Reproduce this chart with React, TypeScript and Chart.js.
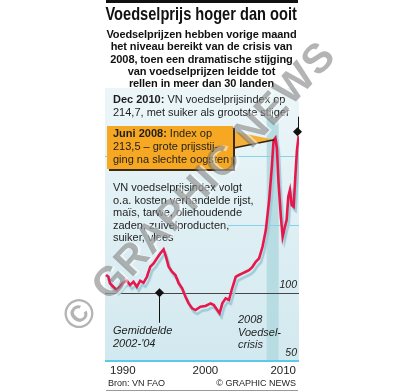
import React, { useEffect, useRef } from "react";
import { Chart, registerables } from "chart.js";
Chart.register(...registerables);

// ---- data ----
const years = [
  1990.11, 1990.36, 1990.54, 1990.9, 1991.27, 1991.63, 1991.99, 1992.36, 1992.72, 1993.08,
  1993.45, 1993.81, 1994.17, 1994.54, 1994.9, 1995.26, 1995.63, 1995.98, 1996.34, 1996.6,
  1996.89, 1997.26, 1997.62, 1997.98, 1998.35, 1998.71, 1999.06, 1999.43, 1999.79, 2000.34,
  2000.88, 2001.43, 2001.78, 2002.15, 2002.4, 2002.7, 2003.06, 2003.42, 2003.71, 2004.15,
  2004.5, 2004.87, 2005.23, 2005.59, 2005.96, 2006.32, 2006.68, 2007.05, 2007.41, 2007.77,
  2008.06, 2008.25, 2008.45, 2008.61, 2008.79, 2009.04, 2009.23, 2009.48, 2009.66, 2009.84,
  2010.02, 2010.21, 2010.42, 2010.6, 2010.78, 2010.96,
];
const foodIndex = [
  113.0, 111.7, 106.9, 104.4, 102.0, 104.4, 107.3, 108.8, 105.6, 108.1,
  104.4, 108.8, 107.3, 111.7, 119.0, 121.5, 125.2, 128.8, 131.8, 126.4,
  119.0, 115.4, 113.0, 106.9, 103.2, 97.1, 92.2, 88.6, 87.3, 89.8,
  90.3, 92.2, 91.0, 87.3, 84.9, 92.2, 95.9, 94.7, 102.0, 111.7,
  113.0, 114.2, 115.4, 116.6, 119.0, 122.7, 125.2, 133.7, 145.9, 167.9,
  192.2, 211.8, 213.5, 205.7, 180.1, 155.6, 141.0, 148.3, 153.2, 170.3,
  175.2, 164.2, 163.0, 184.9, 204.5, 214.7,
];
const xTickValues = [1990, 2000, 2010];
const xTickLabels = ["1990", "2000", "2010"];
const yLabelValues = [100, 50];
const yLabels = ["100", "50"];
const crisisRange = [2007.5, 2008.8];
const avgMarker = [1995.8, 100];
const dec2010Marker = [2010.75, 218];
const juni2008Point = [2008.45, 213.5];

const FONT = '"Liberation Sans", Arial, Helvetica, sans-serif';
const RED = "#e8174b";

const decorPlugin = {
  id: "decor",
  beforeDatasetsDraw(chart: any) {
    const { ctx, chartArea: a, scales } = chart;
    const x = scales.x, y = scales.y;
    ctx.save();
    const g = ctx.createLinearGradient(0, a.top, 0, a.bottom);
    g.addColorStop(0, "#ecf6f9");
    g.addColorStop(1, "#d2e9ef");
    ctx.fillStyle = g;
    ctx.fillRect(a.left, a.top, a.right - a.left, a.bottom - a.top);
    // crisis band
    const c0 = x.getPixelForValue(crisisRange[0]);
    const c1 = x.getPixelForValue(crisisRange[1]);
    ctx.fillStyle = "#b7dde3";
    ctx.fillRect(c0, a.top + 30, c1 - c0, a.bottom - a.top - 30);
    // grid lines
    ctx.strokeStyle = "#86d3ec";
    ctx.lineWidth = 1.2;
    [200, 150].forEach((v) => {
      const py = Math.round(y.getPixelForValue(v)) + 0.5;
      const startX = v === 150 ? x.getPixelForValue(2003.3) : a.left;
      ctx.beginPath();
      ctx.moveTo(startX, py);
      ctx.lineTo(a.right, py);
      ctx.stroke();
    });
    ctx.strokeStyle = "#444";
    ctx.lineWidth = 1;
    const p100 = Math.round(y.getPixelForValue(100)) + 0.5;
    ctx.beginPath();
    ctx.moveTo(a.left, p100);
    ctx.lineTo(a.right, p100);
    ctx.stroke();
    ctx.strokeStyle = "#5cc8ea";
    ctx.lineWidth = 2;
    const p50 = y.getPixelForValue(50);
    ctx.beginPath();
    ctx.moveTo(a.left, p50);
    ctx.lineTo(a.right, p50);
    ctx.stroke();
    ctx.restore();
  },
  beforeDatasetDraw(chart: any) {
    const ctx = chart.ctx;
    ctx.save();
    ctx.shadowColor = "#9fcbd8";
    ctx.shadowOffsetX = 2;
    ctx.shadowOffsetY = 4;
    ctx.shadowBlur = 1;
  },
  afterDatasetDraw(chart: any) {
    chart.ctx.restore();
  },
  afterDatasetsDraw(chart: any) {
    const { ctx, chartArea: a, scales } = chart;
    const x = scales.x, y = scales.y;
    ctx.save();
    // pointer from the Juni 2008 box to the peak
    const tx = x.getPixelForValue(juni2008Point[0]) - 1;
    const ty = y.getPixelForValue(juni2008Point[1]) + 2;
    const bx = x.getPixelForValue(2003.0);
    ctx.fillStyle = "rgba(245,168,35,0.9)";
    ctx.beginPath();
    ctx.moveTo(bx, ty - 10);
    ctx.lineTo(tx, ty);
    ctx.lineTo(bx, ty + 10);
    ctx.closePath();
    ctx.fill();
    ctx.strokeStyle = "#2e2210";
    ctx.lineWidth = 1.5;
    ctx.beginPath();
    ctx.moveTo(bx, ty + 10);
    ctx.lineTo(tx, ty);
    ctx.stroke();

    const diamond = (cx: number, cy: number, r: number) => {
      ctx.beginPath();
      ctx.moveTo(cx, cy - r);
      ctx.lineTo(cx + r, cy);
      ctx.lineTo(cx, cy + r);
      ctx.lineTo(cx - r, cy);
      ctx.closePath();
      ctx.fill();
    };
    ctx.fillStyle = "#111";
    ctx.strokeStyle = "#111";
    ctx.lineWidth = 1;
    // average 2002-'04 marker
    const ax = Math.round(x.getPixelForValue(avgMarker[0])) + 0.5;
    const ay = y.getPixelForValue(avgMarker[1]);
    ctx.beginPath();
    ctx.moveTo(ax, ay);
    ctx.lineTo(ax, ay + 30);
    ctx.stroke();
    diamond(ax, ay, 4.5);
    // Dec 2010 marker
    const dx = Math.round(x.getPixelForValue(dec2010Marker[0])) + 0.5;
    const dy = y.getPixelForValue(dec2010Marker[1]);
    ctx.beginPath();
    ctx.moveTo(dx + 1, dy);
    ctx.lineTo(dx + 1, dy - 15);
    ctx.stroke();
    diamond(dx, dy, 4.5);

    // y labels
    ctx.fillStyle = "#222";
    ctx.font = `italic 10.5px ${FONT}`;
    ctx.textAlign = "right";
    ctx.textBaseline = "middle";
    yLabelValues.forEach((v, i) => {
      ctx.fillText(yLabels[i], a.right - 2, y.getPixelForValue(v) - 8);
    });
    // x labels
    ctx.font = `11.5px ${FONT}`;
    ctx.fillStyle = "#222";
    xTickValues.forEach((v, i) => {
      const px = x.getPixelForValue(v);
      if (i === 0) {
        ctx.textAlign = "left";
        ctx.fillText(xTickLabels[i], px + 5, a.bottom + 10);
      } else if (i === xTickValues.length - 1) {
        ctx.textAlign = "right";
        ctx.fillText(xTickLabels[i], a.right - 3, a.bottom + 10);
      } else {
        ctx.textAlign = "center";
        ctx.fillText(xTickLabels[i], px + 8, a.bottom + 10);
      }
    });
    ctx.restore();
  },
};

const txt: React.CSSProperties = {
  position: "absolute",
  fontFamily: FONT,
  color: "#1e1e1e",
  whiteSpace: "nowrap",
};

export default function App() {
  const ref = useRef<HTMLCanvasElement>(null);
  useEffect(() => {
    if (!ref.current) return;
    const points = years.map((yr, i) => ({ x: yr, y: foodIndex[i] }));
    const chart = new Chart(ref.current, {
      type: "line",
      data: {
        datasets: [
          {
            data: points,
            borderColor: RED,
            borderWidth: 2.6,
            pointRadius: 0,
            tension: 0,
            fill: false,
          },
        ],
      },
      options: {
        animation: false,
        responsive: false,
        devicePixelRatio: 1,
        layout: { padding: { left: 105, right: 105, top: 88, bottom: 31 } },
        plugins: { legend: { display: false }, tooltip: { enabled: false } },
        scales: {
          x: { type: "linear", min: 1990, max: 2011, display: false },
          y: { type: "linear", min: 50, max: 250, display: false },
        },
      },
      plugins: [decorPlugin],
    });
    return () => chart.destroy();
  }, []);

  return (
    <div style={{ position: "fixed", left: 0, top: 0, width: 404, height: 392, background: "#fff", overflow: "hidden" }}>
      <canvas ref={ref} width={404} height={392} style={{ position: "absolute", left: 0, top: 0, width: 404, height: 392 }} />
      <div style={{ position: "absolute", left: 106, top: 0, width: 192, height: 3, background: "#111" }} />
      <div style={{ ...txt, left: 0, width: 403, top: 3, textAlign: "center", fontSize: 18.5, fontWeight: 700, lineHeight: "22px", color: "#111" }}>
        <span style={{ display: "inline-block", transform: "scaleX(0.79)" }}>Voedselprijs hoger dan ooit</span>
      </div>
      <div style={{ ...txt, left: 0, width: 403, top: 28, textAlign: "center", fontSize: 11, fontWeight: 700, lineHeight: "12.3px", letterSpacing: -0.1, color: "#111" }}>
        Voedselprijzen hebben vorige maand<br />
        het niveau bereikt van de crisis van<br />
        2008, toen een dramatische stijging<br />
        van voedselprijzen leidde tot<br />
        rellen in meer dan 30 landen
      </div>
      <div style={{ ...txt, left: 113, top: 93, fontSize: 11, lineHeight: "12.8px" }}>
        <b>Dec 2010:</b> VN voedselprijsindex op<br />
        214,7, met suiker als grootste stijger
      </div>
      <div style={{ ...txt, left: 107, top: 126, width: 120, height: 42, padding: "1px 0 0 6px", background: "#f6a823", boxShadow: "2px 2px 0 #3a2a12", fontSize: 11, lineHeight: "13px" }}>
        <b>Juni 2008:</b> Index op<br />
        213,5 – grote prijsstij-<br />
        ging na slechte oogsten
      </div>
      <div style={{ ...txt, left: 113, top: 181, fontSize: 11, lineHeight: "12.5px" }}>
        VN voedselprijsindex volgt<br />
        o.a. kosten verhandelde rijst,<br />
        maïs, tarwe, oliehoudende<br />
        zaden, zuivelproducten,<br />
        suiker, vlees
      </div>
      <div style={{ ...txt, left: 113, top: 324, fontSize: 11, fontStyle: "italic", lineHeight: "12.5px" }}>
        Gemiddelde<br />
        2002-'04
      </div>
      <div style={{ ...txt, left: 238, top: 313, fontSize: 11, fontStyle: "italic", lineHeight: "12.5px" }}>
        2008<br />
        Voedsel-<br />
        crisis
      </div>
      <div style={{ ...txt, left: 108, top: 377, fontSize: 9, lineHeight: "12px" }}>Bron: VN FAO</div>
      <div style={{ ...txt, right: 404 - 296, top: 377, fontSize: 9, lineHeight: "12px" }}>© GRAPHIC NEWS</div>
      <div style={{ position: "absolute", left: 106, top: 390, width: 192, height: 1, background: "#999" }} />
      <div
        style={{
          ...txt,
          left: 198,
          top: 186,
          transform: "translate(-50%, -50%) rotate(-47deg)",
          fontSize: 41,
          fontWeight: 700,
          letterSpacing: 1,
          color: "rgba(105,105,105,0.5)",
          textShadow: "2px 2px 0 rgba(255,255,255,0.5)",
          lineHeight: "44px",
        }}
      >
        © GRAPHIC NEWS
      </div>
    </div>
  );
}
